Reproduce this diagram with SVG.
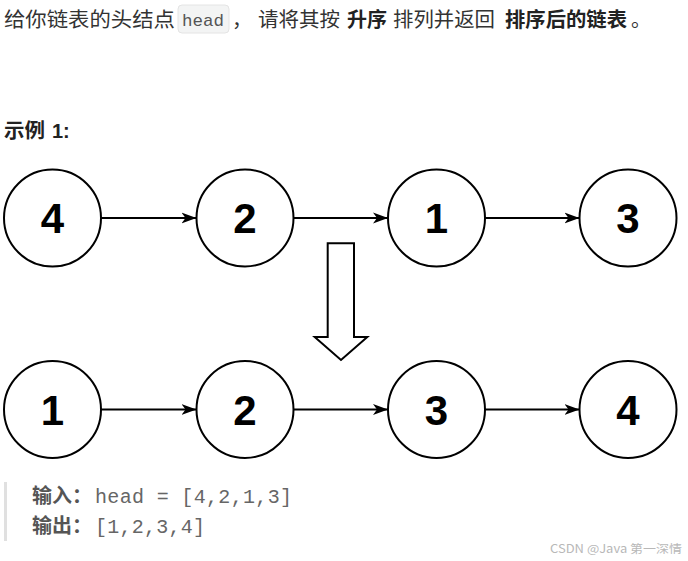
<svg xmlns="http://www.w3.org/2000/svg" width="688" height="561" viewBox="0 0 688 561">
<defs>
<style>
.t{font-family:"Noto Sans CJK SC","Noto Sans",sans-serif;font-size:20px;fill:#333}
.b{font-weight:bold;fill:#222}
.m{font-family:"Liberation Mono","DejaVu Sans Mono",monospace;font-size:20px;fill:#666}
.node circle{fill:#fff;stroke:#000;stroke-width:2}
.node text{font-family:"Liberation Sans",Arial,sans-serif;font-size:42px;font-weight:bold;text-anchor:middle;fill:#000}
.edge{stroke:#000;stroke-width:2;fill:none}
</style>
<marker id="ah" markerWidth="16" markerHeight="12" viewBox="0 0 16 12" refX="15" refY="6" orient="auto" markerUnits="userSpaceOnUse">
<path d="M15,6 L0,0.5 L4,6 L0,11.5 Z" fill="#000"/>
</marker>
</defs>
<rect width="688" height="561" fill="#fff"/>

<g id="header">
<text class="t" x="4" y="27" textLength="171" lengthAdjust="spacingAndGlyphs">给你链表的头结点</text>
<rect x="178" y="5" width="51" height="28" rx="4" fill="#f3f4f4" stroke="#e4e4e4"/>
<text x="182" y="26" font-family="Liberation Mono,DejaVu Sans Mono,monospace" font-size="17" fill="#555" textLength="42" lengthAdjust="spacingAndGlyphs">head</text>
<text class="t" x="232" y="27">，</text>
<text class="t" x="258" y="27" textLength="82" lengthAdjust="spacingAndGlyphs">请将其按</text>
<text class="t b" x="347" y="27" textLength="40" lengthAdjust="spacingAndGlyphs">升序</text>
<text class="t" x="393" y="27" textLength="102" lengthAdjust="spacingAndGlyphs">排列并返回</text>
<text class="t b" x="505" y="27" textLength="122" lengthAdjust="spacingAndGlyphs">排序后的链表</text>
<text class="t" x="631" y="27">。</text>
</g>

<g id="example-title">
<text class="t b" x="4" y="138" textLength="41" lengthAdjust="spacingAndGlyphs">示例</text>
<text x="52" y="138" font-family="Liberation Sans,Arial,sans-serif" font-size="20" font-weight="bold" fill="#222">1:</text>
</g>

<g id="connectors">
<line class="edge" x1="101" y1="218" x2="196.5" y2="218" marker-end="url(#ah)"/>
<line class="edge" x1="293.5" y1="218" x2="388" y2="218" marker-end="url(#ah)"/>
<line class="edge" x1="485" y1="218" x2="579.5" y2="218" marker-end="url(#ah)"/>
<line class="edge" x1="101" y1="409.5" x2="196.5" y2="409.5" marker-end="url(#ah)"/>
<line class="edge" x1="293.5" y1="409.5" x2="388" y2="409.5" marker-end="url(#ah)"/>
<line class="edge" x1="485" y1="409.5" x2="579.5" y2="409.5" marker-end="url(#ah)"/>
</g>

<g id="n1" class="node"><circle cx="52.5" cy="218" r="48.5"/><text x="52.5" y="233">4</text></g>
<g id="n2" class="node"><circle cx="245" cy="218" r="48.5"/><text x="245" y="233">2</text></g>
<g id="n3" class="node"><circle cx="436.5" cy="218" r="48.5"/><text x="436.5" y="233">1</text></g>
<g id="n4" class="node"><circle cx="628" cy="218" r="48.5"/><text x="628" y="233">3</text></g>

<g id="sort-arrow">
<polygon points="327.7,243.3 354,243.3 354,337 367.3,337 341,360 314.7,337 327.7,337" fill="#fff" stroke="#000" stroke-width="2" stroke-linejoin="miter"/>
</g>

<g id="m1" class="node"><circle cx="52.5" cy="409.5" r="48.5"/><text x="52.5" y="424.5">1</text></g>
<g id="m2" class="node"><circle cx="245" cy="409.5" r="48.5"/><text x="245" y="424.5">2</text></g>
<g id="m3" class="node"><circle cx="436.5" cy="409.5" r="48.5"/><text x="436.5" y="424.5">3</text></g>
<g id="m4" class="node"><circle cx="628" cy="409.5" r="48.5"/><text x="628" y="424.5">4</text></g>

<g id="io">
<rect x="4" y="482" width="3" height="59" fill="#e0e0e0"/>
<text class="t b" x="32" y="503" style="fill:#555">输入：</text>
<text class="m" x="95" y="503" textLength="197" lengthAdjust="spacing">head = [4,2,1,3]</text>
<text class="t b" x="32" y="533" style="fill:#555">输出：</text>
<text class="m" x="95" y="533" textLength="110" lengthAdjust="spacing">[1,2,3,4]</text>
</g>

<g id="watermark">
<text x="550" y="553" font-family="Noto Sans CJK SC,Noto Sans,sans-serif" font-size="11.5" fill="#b8b8b8" textLength="132" lengthAdjust="spacingAndGlyphs">CSDN @Java 第一深情</text>
</g>
</svg>
